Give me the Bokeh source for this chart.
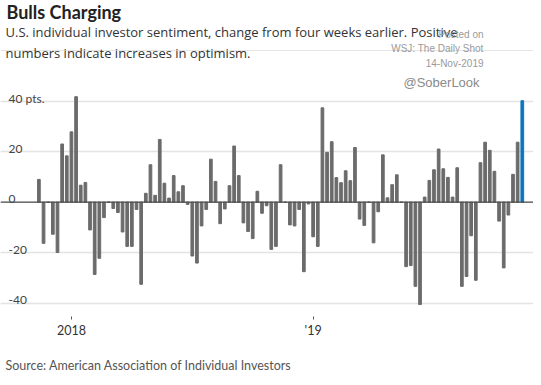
import pandas as pd
from bokeh.plotting import figure
from bokeh.models import (Range1d, Span, Grid, FixedTicker, CustomJSTickFormatter,
                          Title, ColumnDataSource)
from bokeh.core.properties import value
from bokeh.embed import file_html
from bokeh.resources import INLINE

# ---------------- data ----------------
last_date = "2019-11-14"
changes = [9.0, -16.3, 0.0, -12.7, -19.9, 23.0, 18.3, 27.8, 41.7, 6.7, 7.8, -11.0, -28.6, -22.2,
           -6.1, 0.0, -2.5, -4.1, -11.8, -17.5, -17.5, -2.9, -32.5, 3.5, 14.8, 2.7, 24.8, 7.5, 1.6,
           10.5, 4.1, 6.5, -0.9, -21.3, -24.1, -9.4, -2.9, 17.0, 8.2, -8.5, -2.7, 6.5, 22.2, 10.5,
           -8.2, -11.6, -14.4, 4.3, -4.4, -1.4, -18.7, -17.5, 14.8, 0.0, -9.0, -9.4, -2.9, -27.5,
           -0.7, -13.7, -17.5, 37.3, 19.7, 23.9, 9.7, 7.7, 12.4, 8.5, 21.6, -6.7, -9.2, 0.0, -16.1,
           -3.8, 18.7, 1.7, 6.9, 10.8, 0.0, -25.5, -25.1, -33.3, -40.5, 2.0, 8.6, 12.8, 21.0, 13.2,
           9.8, 2.0, 13.6, -33.3, -29.4, -13.3, -30.9, 15.6, 23.7, 20.5, 12.2, -7.5, -26.0, -5.1,
           11.0, 23.7, 40.1]
y_ticks = [40, 20, 0, -20, -40]
y_tick_labels = ["40 pts.", "20", "0", "-20", "-40"]

title = "Bulls Charging"
subtitle_1 = "U.S. individual investor sentiment, change from four weeks earlier. Positive"
subtitle_2 = "numbers indicate increases in optimism."
source_text = "Source: American Association of Individual Investors"
wm_lines = ["Posted on", "WSJ: The Daily Shot", "14-Nov-2019"]
wm_handle = "@SoberLook"

dates = pd.date_range(end=last_date, periods=len(changes), freq="7D")
colors = ["#6b6b6b"] * (len(changes) - 1) + ["#0b76bd"]
src = ColumnDataSource(dict(x=dates, top=changes, color=colors))

# ---------------- layout ----------------
W, FH = 533, 316
first_px, last_px = 38.4, 521.8
px_week = (last_px - first_px) / (len(changes) - 1)
week = pd.Timedelta(days=7)
x_start = dates[0] - week * (first_px / px_week)
x_end = dates[-1] + week * ((W - last_px) / px_week)
g40_px, gm40_px = 100.5, 302.8
px_pt = (gm40_px - g40_px) / 80
y_top = 40 + g40_px / px_pt
y_bot = -40 - (FH - gm40_px) / px_pt

FONT = value("Lato")
SUBFONT = value("Open Sans")

p = figure(frame_width=W, frame_height=FH, x_axis_type="datetime", y_axis_location=None,
           x_range=Range1d(x_start, x_end), y_range=Range1d(y_bot, y_top),
           min_border_left=0, min_border_right=0, min_border_top=0, min_border_bottom=0,
           toolbar_location=None, output_backend="svg", outline_line_color=None,
           background_fill_color="white", border_fill_color="white")
p.xgrid.visible = False
p.add_layout(Grid(dimension=1, ticker=FixedTicker(ticks=[t for t in y_ticks if t != 0]),
                  grid_line_color="#e3e3e3", grid_line_width=1.3))

p.vbar(x="x", top="top", bottom=0, width=0.58 * 7 * 24 * 3600 * 1000,
       color="color", source=src)
p.add_layout(Span(location=0, dimension="width", line_color="#4a4a4a", line_width=1.3))

# y tick labels sitting just above gridlines
p.text(x=[x_start] * len(y_ticks), y=y_ticks, text=y_tick_labels, x_offset=8, y_offset=-3,
       text_font=FONT, text_font_size="12px", text_color="#444", text_baseline="alphabetic")

# x axis
first_in_year = [d for i, d in enumerate(dates) if d.month == 1 and (i == 0 or dates[i - 1].month != 1)]
xa = p.xaxis[0]
xa.ticker = FixedTicker(ticks=[d.timestamp() * 1000 for d in first_in_year])
xa.formatter = CustomJSTickFormatter(code="""
const y = new Date(tick).getUTCFullYear();
return index == 0 ? String(y) : "'" + String(y).slice(2);
""")
xa.axis_line_color = None
xa.major_tick_line_color = "#555"
xa.major_tick_in = 0
xa.major_tick_out = 3
xa.minor_tick_line_color = None
xa.major_label_standoff = 3
xa.major_label_text_font = "Lato"
xa.major_label_text_font_size = "12.5px"
xa.major_label_text_color = "#333"

# header texts
p.text(x=[x_start], y=[y_top], text=[title], x_offset=6, y_offset=22,
       text_font=FONT, text_font_size="18px", text_font_style="bold", text_color="#222")
p.text(x=[x_start, x_start], y=[y_top, y_top], text=[subtitle_1, subtitle_2], x_offset=5,
       y_offset=[40.5, 61], text_font=SUBFONT, text_font_size="13px", text_color="#333")
p.text(x=[x_start] * 3, y=[y_top] * 3, text=wm_lines, x_offset=483, y_offset=[39, 53, 68.5],
       text_align="right", text_font=value("Liberation Sans"), text_font_size="10px",
       text_color="#9a9a9a")
p.text(x=[x_start], y=[y_top], text=[wm_handle], x_offset=403, y_offset=89,
       text_font=value("Liberation Sans"), text_font_size="13px", text_color="#8a8a8a")

p.add_layout(Title(text=source_text, align="left", text_font="Lato", text_font_size="12.5px",
                   text_font_style="normal", text_color="#555", offset=5, standoff=30), "below")

open("out.html", "w").write(file_html(p, INLINE))
